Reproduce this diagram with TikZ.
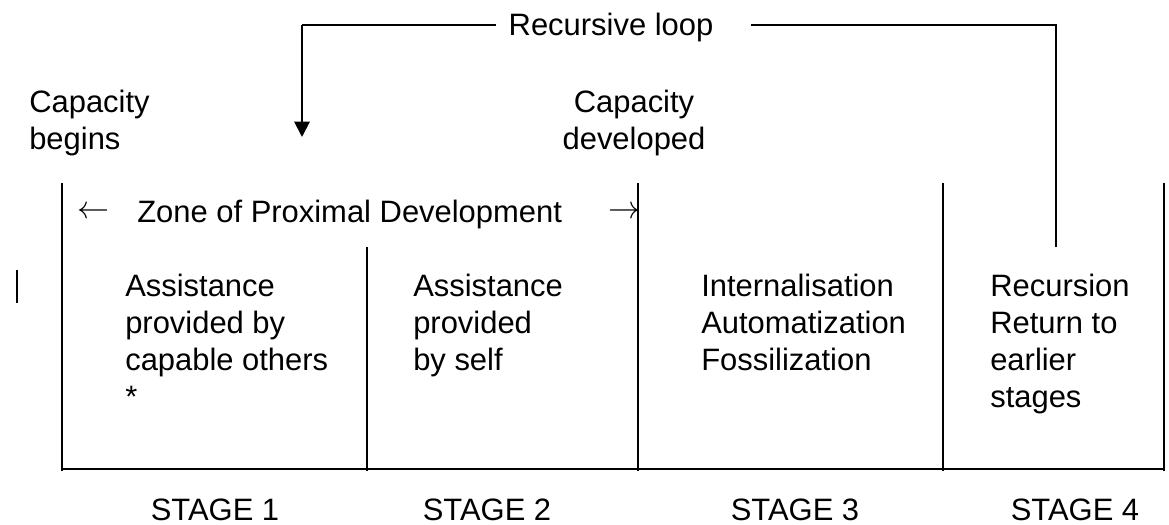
\documentclass[tikz,border=0pt]{standalone}
\usepackage{fontspec}
\setmainfont{Liberation Sans}
\usetikzlibrary{arrows.meta}
\begin{document}
\begin{tikzpicture}[x=0.025cm,y=-0.025cm,
        every node/.style={font=\fontsize{22}{26.3}\selectfont,inner sep=0},
        boxtext/.style={anchor=north west,align=left},
        stagelabel/.style={anchor=base}]
        \useasboundingbox (0,0) rectangle (1169,525);
        % recursive loop on top
        \node[anchor=base] (loop) at (611,36) {Recursive loop};
        \coordinate (loopleft) at (496,25);
        \coordinate (loopright) at (751,25);
        \coordinate (loopstart) at (1056,247);
        \coordinate (loopdown) at (302,25);
        \coordinate (looptip) at (302,137);
        \draw[line width=1pt] (loopstart) |- (loopright);
        \draw[line width=1pt] (loopleft) -- (loopdown);
        \draw[line width=1.4pt,-{Triangle[width=11pt,length=11pt]}] (loopdown) -- (looptip);
        % capacity labels
        \node[boxtext] (capbegin) at (29,90) {Capacity\\begins};
        \node[anchor=north,align=center] (capdev) at (634,90) {Capacity\\developed};
        % zone of proximal development
        \node[scale=1.1] (zoneleft) at (94,213) {$\leftarrow$};
        \node[anchor=base west] (zone) at (137,222) {Zone of Proximal Development};
        \node[scale=1.1] (zoneright) at (625,213) {$\rightarrow$};
        % stage frame
        \draw[line width=1pt] (17,270) -- (17,303);
        \foreach \x/\top in {62/183, 367/247, 638/183, 943/183, 1164/183}
            \draw[line width=1pt] (\x,\top) -- (\x,471);
        \draw[line width=1pt] (62,469) -- (1164,469);
        % stage texts
        \node[boxtext] (stageone) at (125,274) {Assistance\\provided by\\capable others\\*};
        \node[boxtext] (stagetwo) at (413,274) {Assistance\\provided\\by self};
        \node[boxtext] (stagethree) at (701,274) {Internalisation\\Automatization\\Fossilization};
        \node[boxtext] (stagefour) at (990,274) {Recursion\\Return to\\earlier\\stages};
        \node[stagelabel] (stage1) at (215,520) {STAGE 1};
        \node[stagelabel] (stage2) at (487,520) {STAGE 2};
        \node[stagelabel] (stage3) at (795,520) {STAGE 3};
        \node[stagelabel] (stage4) at (1075,520) {STAGE 4};
    \end{tikzpicture}
\end{document}
